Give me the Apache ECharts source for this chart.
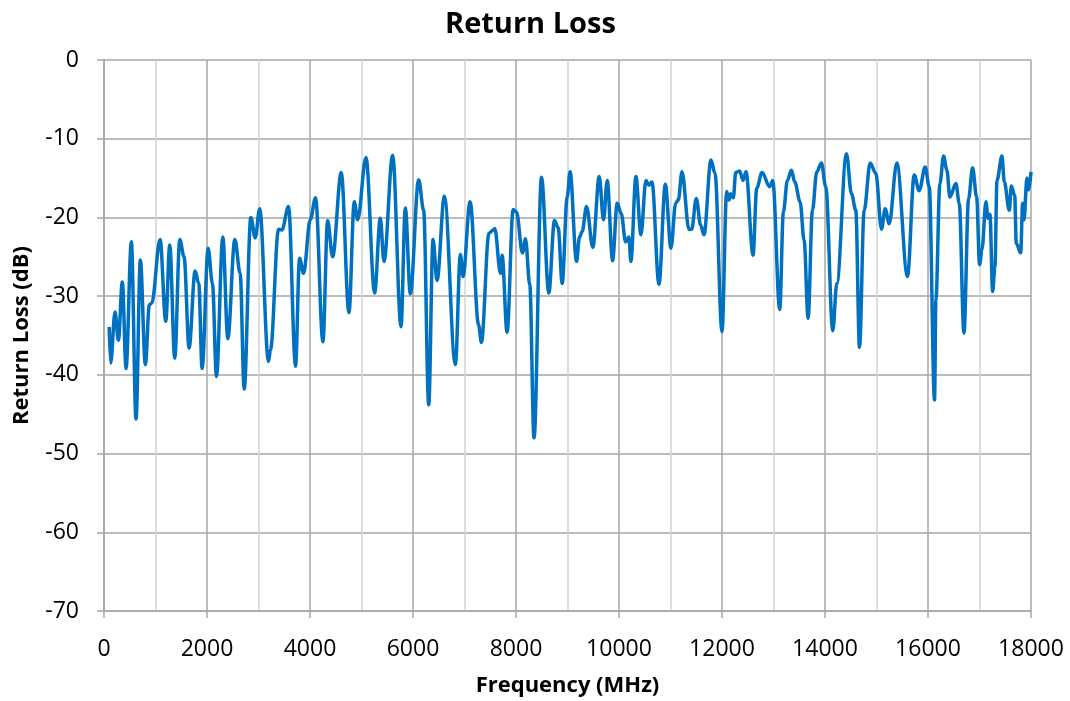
<!DOCTYPE html>
<html>
<head>
<meta charset="utf-8">
<script src="https://cdn.jsdelivr.net/npm/echarts@6/dist/echarts.min.js"></script>
<style>
html,body{margin:0;padding:0;background:#fff;}
#chart{width:1070px;height:701px;}
</style>
</head>
<body>
<div id="chart"></div>
<script>
const freqMHz = [
100,130,214,279,356,428,531,622,706,803,881,927,1089,1199,1277,1374,1471,1555,1652,1769,
1840,1905,2022,2106,2184,2307,2404,2540,2644,2722,2851,2936,3023,3194,3233,3389,3454,3583,3719,3797,
3875,4004,4108,4251,4342,4439,4607,4756,4860,4925,5087,5255,5365,5436,5605,5767,5851,5948,6110,6207,
6305,6389,6467,6609,6823,6920,6972,7108,7275,7328,7475,7559,7588,7698,7730,7827,7944,8009,8125,8184,
8268,8350,8495,8637,8747,8819,8897,8994,9050,9175,9233,9285,9369,9492,9616,9700,9771,9875,9965,10043,
10128,10192,10231,10328,10426,10523,10581,10640,10776,10899,11009,11100,11151,11223,11359,11411,11501,11585,11650,11786,
11864,12000,12091,12136,12168,12220,12266,12343,12408,12466,12603,12674,12777,12926,12985,13121,13192,13270,13348,13413,
13516,13594,13672,13756,13840,13931,14015,14151,14229,14417,14514,14598,14670,14760,14877,14987,15097,15168,15246,15395,
15602,15732,15829,15946,16024,16127,16153,16231,16302,16367,16425,16542,16607,16698,16788,16866,16944,17002,17048,17125,
17164,17203,17255,17300,17339,17436,17482,17579,17618,17683,17715,17799,17838,17864,17922,17955,18000
];
const returnLossDb = [
-33.9,-38.5,-32.0,-35.6,-28.2,-39.2,-23.1,-45.6,-25.4,-38.7,-31.1,-30.9,-22.8,-33.2,-23.5,-37.9,-22.8,-25.0,-36.6,-26.8,
-28.4,-39.2,-23.9,-28.4,-40.2,-22.5,-35.4,-22.8,-27.1,-41.8,-20.0,-22.6,-18.9,-38.3,-36.8,-21.5,-21.6,-18.6,-38.9,-25.2,
-27.1,-20.3,-17.5,-35.8,-20.4,-25.0,-14.3,-32.1,-18.0,-20.3,-12.4,-29.6,-20.1,-25.6,-12.1,-33.9,-18.8,-29.7,-15.2,-19.1,
-43.8,-22.8,-28.0,-17.3,-38.7,-24.7,-27.5,-18.0,-33.7,-35.9,-22.0,-21.6,-21.4,-27.1,-24.8,-34.6,-19.0,-19.3,-24.5,-22.7,
-28.6,-48.0,-14.9,-29.6,-20.4,-21.3,-28.4,-17.4,-14.2,-25.6,-22.5,-21.8,-18.6,-23.8,-14.8,-20.3,-15.3,-25.5,-18.2,-19.5,
-23.1,-22.5,-25.6,-14.8,-22.2,-15.3,-15.9,-15.5,-28.5,-15.8,-23.9,-18.2,-17.8,-14.2,-21.5,-21.5,-17.6,-21.0,-22.2,-12.7,
-14.4,-34.5,-16.7,-17.8,-17.0,-17.5,-14.3,-14.1,-15.3,-14.2,-24.8,-16.3,-14.3,-16.1,-15.3,-31.7,-19.3,-15.3,-14.0,-15.5,
-18.0,-22.9,-32.8,-19.1,-14.2,-13.1,-16.1,-34.4,-28.4,-11.9,-17.0,-19.1,-36.5,-19.1,-13.1,-14.4,-21.5,-18.9,-20.8,-13.1,
-27.5,-14.6,-16.6,-13.6,-16.1,-43.2,-30.5,-15.7,-12.2,-14.0,-17.4,-15.7,-18.2,-34.7,-17.6,-13.7,-17.4,-26.0,-24.1,-18.0,
-20.1,-19.6,-29.4,-26.3,-15.3,-12.2,-15.5,-19.1,-16.0,-17.2,-23.3,-24.5,-18.2,-20.3,-15.0,-16.5,-14.2
];
const xTicks = [0,2000,4000,6000,8000,10000,12000,14000,16000,18000];
const yTicks = [0,-10,-20,-30,-40,-50,-60,-70];

const FONT = '"Open Sans", Lato, sans-serif';
const chart = echarts.init(document.getElementById('chart'), null, {renderer:'canvas'});
chart.setOption({
  animation:false,
  backgroundColor:'#fff',
  title:{
    text:'Return Loss', left:440, top:5,
    textStyle:{fontFamily:FONT, fontSize:29, fontWeight:'bold', color:'#000'}
  },
  grid:{left:104, right:39, top:60, bottom:90, containLabel:false, outerBoundsMode:'none'},
  xAxis:{
    type:'value', min:0, max:18000, interval:2000,
    name:'Frequency (MHz)', nameLocation:'middle', nameGap:64,
    nameTextStyle:{fontFamily:FONT, fontSize:22, fontWeight:'bold', color:'#000'},
    axisLine:{show:true, onZero:false, lineStyle:{color:'#a6a6a6', width:1.5}},
    axisTick:{show:true, length:7, lineStyle:{color:'#a6a6a6', width:1.5}},
    axisLabel:{fontFamily:FONT, fontSize:23, color:'#000', margin:27,
      formatter:function(v){return xTicks.indexOf(v)>=0? String(v):'';}},
    splitLine:{show:true, lineStyle:{color:'#a6a6a6', width:1.5}},
    minorTick:{show:false, splitNumber:2},
    minorSplitLine:{show:true, lineStyle:{color:'#d4d4d4', width:1.5}}
  },
  yAxis:{
    type:'value', min:-70, max:0, interval:10,
    name:'Return Loss (dB)', nameLocation:'middle', nameGap:71, nameRotate:90,
    nameTextStyle:{fontFamily:FONT, fontSize:22, fontWeight:'bold', color:'#000'},
    axisLine:{show:true, lineStyle:{color:'#a6a6a6', width:1.5}},
    axisTick:{show:true, length:7, lineStyle:{color:'#a6a6a6', width:1.5}},
    axisLabel:{fontFamily:FONT, fontSize:23, color:'#000', margin:25,
      formatter:function(v){return yTicks.indexOf(v)>=0? String(v):'';}},
    splitLine:{show:true, lineStyle:{color:'#a6a6a6', width:1.5}}
  },
  series:[{
    type:'line',
    data:freqMHz.map(function(f,i){return [f, returnLossDb[i]];}),
    showSymbol:false, symbol:'none',
    smooth:0.35, smoothMonotone:'x',
    lineStyle:{color:'#0070c0', width:3.5},
    itemStyle:{color:'#0070c0'}
  }]
});
</script>
</body>
</html>
